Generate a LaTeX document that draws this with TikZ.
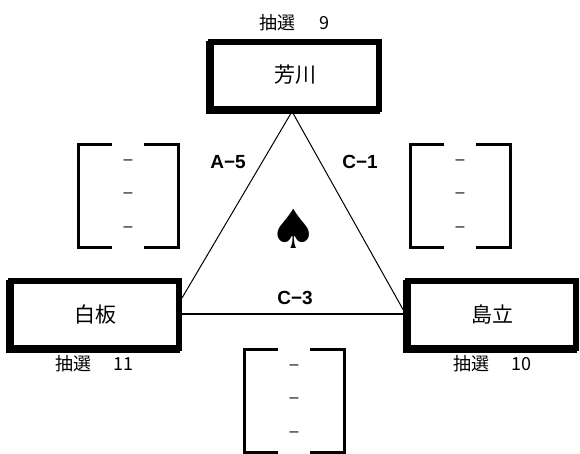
\documentclass[tikz,border=0pt]{standalone}
\usepackage{fontspec}
\setmainfont{Noto Sans CJK JP}
\newfontfamily\latfont{Liberation Sans}
\newfontfamily\symfont{DejaVu Sans}
\begin{document}
\begin{tikzpicture}[x=1pt,y=-1pt,
  teambox/.style={draw, line width=6pt, fill=white, minimum width=168pt, minimum height=67pt,
    inner sep=0pt, font=\fontsize{21}{21}\selectfont,
    preaction={draw, line width=6pt, transform canvas={xshift=-2pt,yshift=-2pt}}},
  draw lbl/.style={font=\fontsize{18}{18}\selectfont, inner sep=0pt},
  matchlbl/.style={font=\latfont\bfseries\fontsize{19}{19}\selectfont, inner sep=0pt},
  bracket/.style={line width=3pt},
  dashmark/.style={font=\latfont\fontsize{16}{16}\selectfont, inner sep=0pt},
  edge/.style={line width=1pt},
  base/.style={line width=2.5pt}]
\useasboundingbox (0,0) rectangle (580,453);
% team boxes
\node[teambox] (t) at (295,75) {芳川};
\node[teambox] (lb) at (95,314) {白板};
\node[teambox] (rb) at (492,314) {島立};
% draw labels
\node[draw lbl, anchor=west] (lt) at (259,23) {抽選\hspace{24pt}9};
\node[draw lbl, anchor=west] (ll) at (55,364) {抽選\hspace{22pt}11};
\node[draw lbl, anchor=west] (lr) at (453,364) {抽選\hspace{22pt}10};
% triangle
\draw[edge] ([xshift=-3pt]t.south) -- ([yshift=16pt]lb.east);
\draw[edge] ([xshift=-3pt]t.south) -- ([yshift=1pt]rb.west);
\draw[base] (lb.east) -- (rb.west);
% match labels
\node[matchlbl] (a5) at (228,162) {A−5};
\node[matchlbl] (c1) at (360,162) {C−1};
\node[matchlbl] (c3) at (295,298) {C−3};
\node[font=\symfont\fontsize{54}{54}\selectfont, inner sep=0pt, anchor=base] (sp) at (294,248) {♠};
% bracket groups
\foreach \x/\y in {78/144, 410/144, 244/349} {
  \draw[bracket] (\x+34,\y) -- (\x,\y) -- (\x,\y+103) -- (\x+34,\y+103);
  \draw[bracket] (\x+66,\y) -- (\x+100,\y) -- (\x+100,\y+103) -- (\x+66,\y+103);
  \node[dashmark] at (\x+50,\y+18) {–};
  \node[dashmark] at (\x+50,\y+51) {–};
  \node[dashmark] at (\x+50,\y+85) {–};
}
\end{tikzpicture}
\end{document}
